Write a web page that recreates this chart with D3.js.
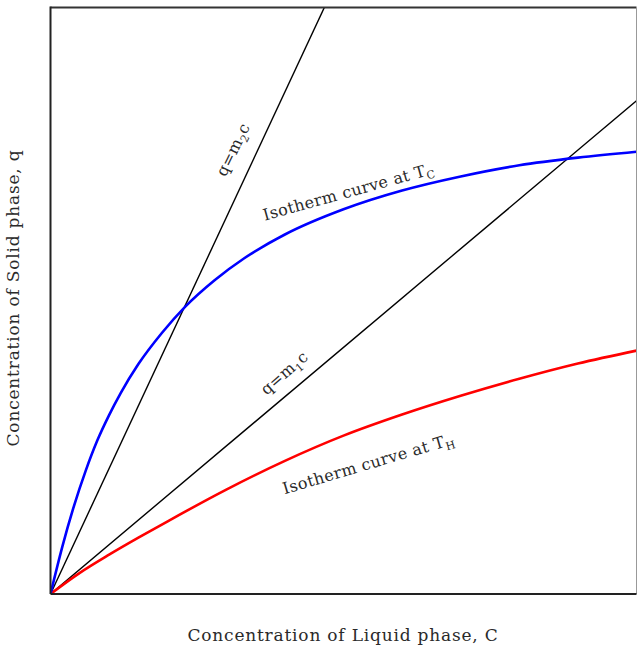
<!DOCTYPE html>
<html>
<head>
<meta charset="utf-8">
<script src="https://cdn.jsdelivr.net/npm/d3@7"></script>
<style>
  body { margin: 0; background: #fff; }
  svg { display: block; }
  text { font-family: "DejaVu Serif", "Liberation Serif", serif; fill: #2a2a2a; }
</style>
</head>
<body>
<div id="chart"></div>
<script>
// isotherm at T_C (blue), C and q in 0..1
var coldC = [0, 0.02, 0.04, 0.06, 0.08, 0.10, 0.12, 0.15, 0.19, 0.23, 0.28, 0.33, 0.40, 0.50, 0.60, 0.70, 0.80, 0.90, 1.0];
var coldQ = [0, 0.080, 0.150, 0.210, 0.262, 0.305, 0.343, 0.392, 0.445, 0.490, 0.535, 0.572, 0.613, 0.656, 0.688, 0.712, 0.731, 0.744, 0.754];
// isotherm at T_H (red)
var hotC = [0, 0.05, 0.10, 0.15, 0.20, 0.30, 0.40, 0.50, 0.60, 0.70, 0.80, 0.90, 1.0];
var hotQ = [0, 0.036, 0.067, 0.096, 0.124, 0.178, 0.227, 0.270, 0.306, 0.338, 0.367, 0.393, 0.415];
// straight lines q = m c
var slopes = [2.14, 0.841];

var width = 637, height = 645;
var margin = {left: 50.5, right: 0.5, top: 7.5, bottom: 51};

var svg = d3.select("#chart").append("svg")
  .attr("width", width)
  .attr("height", height);

var x = d3.scaleLinear().domain([0, 1]).range([margin.left, width - margin.right]);
var y = d3.scaleLinear().domain([0, 1]).range([height - margin.bottom, margin.top]);

// clip so the steep line stops at the top border
svg.append("clipPath").attr("id", "plotClip")
  .append("rect")
  .attr("x", x(0)).attr("y", y(1))
  .attr("width", x(1) - x(0)).attr("height", y(0) - y(1));

var plot = svg.append("g").attr("clip-path", "url(#plotClip)");

// straight lines
slopes.forEach(function(m) {
  plot.append("line")
    .attr("x1", x(0)).attr("y1", y(0))
    .attr("x2", x(1)).attr("y2", y(m))
    .style("stroke", "#000")
    .style("stroke-width", 1.4);
});

var line = d3.line()
  .x(function(d) { return x(d[0]); })
  .y(function(d) { return y(d[1]); })
  .curve(d3.curveMonotoneX);

plot.append("path")
  .datum(d3.zip(hotC, hotQ))
  .attr("d", line)
  .style("fill", "none")
  .style("stroke", "#ff0000")
  .style("stroke-width", 2.6);

plot.append("path")
  .datum(d3.zip(coldC, coldQ))
  .attr("d", line)
  .style("fill", "none")
  .style("stroke", "#0000ff")
  .style("stroke-width", 2.6);

// frame
svg.append("line").attr("x1", x(0)).attr("x2", x(1)).attr("y1", y(1)).attr("y2", y(1))
  .style("stroke", "#333").style("stroke-width", 2);
svg.append("line").attr("x1", x(1)).attr("x2", x(1)).attr("y1", y(1)).attr("y2", y(0))
  .style("stroke", "#999").style("stroke-width", 1);
svg.append("line").attr("x1", x(0)).attr("x2", x(0)).attr("y1", y(1) - 1).attr("y2", y(0))
  .style("stroke", "#222").style("stroke-width", 2);
svg.append("line").attr("x1", x(0)).attr("x2", x(1)).attr("y1", y(0)).attr("y2", y(0))
  .style("stroke", "#222").style("stroke-width", 2);

// label with a subscript
function label(cx, cy, angle, main, sub, tail) {
  var t = svg.append("text")
    .attr("transform", "translate(" + cx + "," + cy + ") rotate(" + angle + ")")
    .attr("text-anchor", "middle")
    .style("font-size", "16px")
    .style("letter-spacing", "0.4px");
  t.append("tspan").text(main);
  t.append("tspan").attr("dy", 4).style("font-size", "11px").text(sub);
  if (tail) t.append("tspan").attr("dy", -4).text(tail);
  return t;
}

label(238, 152, -64, "q=m", "2", "c");
label(288, 377, -41, "q=m", "1", "c");
label(350, 197, -15.5, "Isotherm  curve  at  T", "C");
label(370, 469, -16.5, "Isotherm  curve  at  T", "H");

// axis titles
svg.append("text")
  .attr("x", 343).attr("y", 641)
  .attr("text-anchor", "middle")
  .style("font-size", "17px")
  .style("letter-spacing", "0.8px")
  .text("Concentration of Liquid phase, C");

svg.append("text")
  .attr("transform", "translate(19,298) rotate(-90)")
  .attr("text-anchor", "middle")
  .style("font-size", "17px")
  .style("letter-spacing", "0.8px")
  .text("Concentration of Solid phase, q");
</script>
</body>
</html>
